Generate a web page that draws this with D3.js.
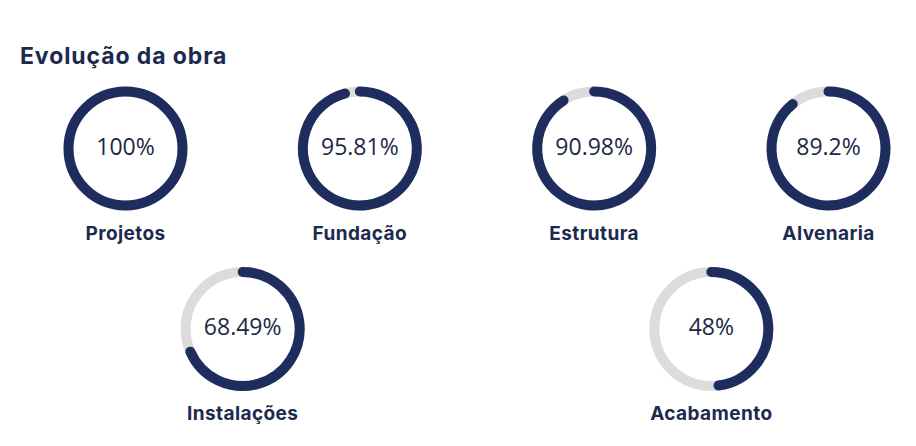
<!DOCTYPE html>
<html>
<head>
<meta charset="utf-8">
<script src="https://cdn.jsdelivr.net/npm/d3@7"></script>
<style>
  html, body { margin: 0; padding: 0; background: #ffffff; }
  svg { display: block; }
</style>
</head>
<body>
<svg id="chart" width="916" height="446"></svg>
<script>
const title = "Evolução da obra";
const categories = ["Projetos", "Fundação", "Estrutura", "Alvenaria", "Instalações", "Acabamento"];
const values = [100, 95.81, 90.98, 89.2, 68.49, 48];
const valueLabels = ["100%", "95.81%", "90.98%", "89.2%", "68.49%", "48%"];
// grid slot (column position in 0..3 units, row index)
const colSlots = [0, 1, 2, 3, 0.5, 2.5];
const rowSlots = [0, 0, 0, 0, 1, 1];

const svg = d3.select("#chart");
const navy = "#1f2d5e";
const track = "#dcdcdc";
const textColor = "#1d2845";

svg.append("text")
  .attr("x", 20).attr("y", 64)
  .attr("font-family", "Inter, sans-serif")
  .attr("font-weight", 700)
  .attr("font-size", 23)
  .attr("letter-spacing", 0.9)
  .attr("fill", "#1b2a4e")
  .text(title);

const x = d3.scaleLinear().domain([0, 3]).range([125.5, 828.5]);
const y = d3.scaleLinear().domain([0, 1]).range([148.5, 329]);
const angle = d3.scaleLinear().domain([0, 100]).range([0, 2 * Math.PI]);

const r = 57, sw = 10;

function arcPath(a0, a1) {
  const p = d3.path();
  // angles measured clockwise from 12 o'clock
  p.arc(0, 0, r, a0 - Math.PI / 2, a1 - Math.PI / 2, false);
  return p.toString();
}

const g = svg.selectAll("g.donut")
  .data(categories.map((c, i) => ({ c, v: values[i], l: valueLabels[i], col: colSlots[i], row: rowSlots[i] })))
  .join("g")
  .attr("class", "donut")
  .attr("transform", d => `translate(${x(d.col)},${y(d.row)})`);

g.append("circle")
  .attr("r", r)
  .attr("fill", "none")
  .attr("stroke", track)
  .attr("stroke-width", sw);

g.append("path")
  .attr("d", d => d.v >= 100 ? null : arcPath(0, angle(d.v)))
  .attr("fill", "none")
  .attr("stroke", navy)
  .attr("stroke-width", sw)
  .attr("stroke-linecap", "round");

g.filter(d => d.v >= 100).append("circle")
  .attr("r", r)
  .attr("fill", "none")
  .attr("stroke", navy)
  .attr("stroke-width", sw);

g.append("text")
  .attr("text-anchor", "middle")
  .attr("y", 6)
  .attr("font-family", "'Open Sans', sans-serif")
  .attr("font-weight", 400)
  .attr("font-size", 23)
  .attr("fill", textColor)
  .text(d => d.l);

g.append("text")
  .attr("text-anchor", "middle")
  .attr("y", 91)
  .attr("font-family", "Inter, sans-serif")
  .attr("font-weight", 700)
  .attr("font-size", 19)
  .attr("letter-spacing", 0.4)
  .attr("fill", "#1b2a4e")
  .text(d => d.c);
</script>
</body>
</html>
